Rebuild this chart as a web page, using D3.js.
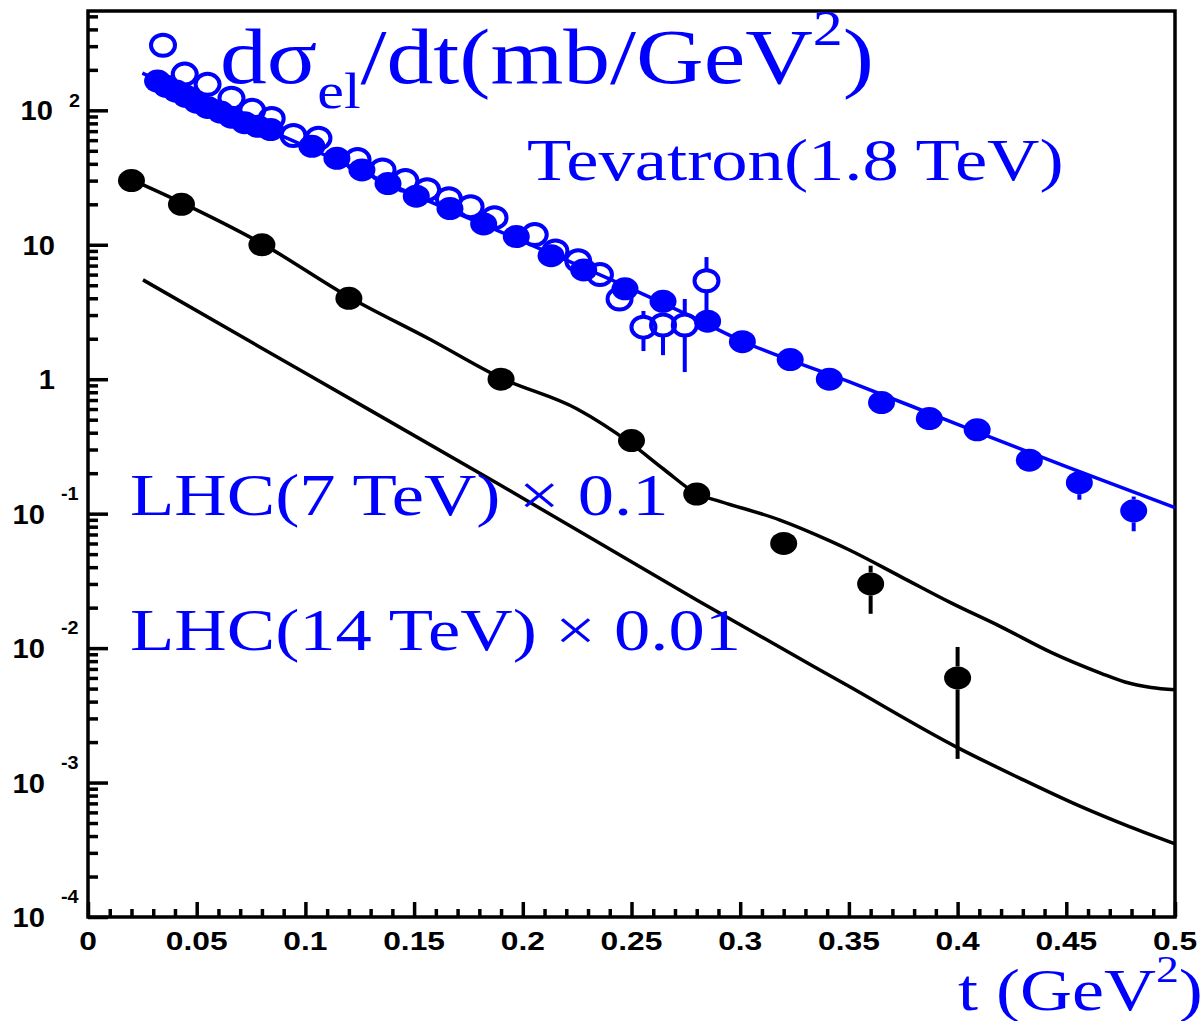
<!DOCTYPE html>
<html>
<head>
<meta charset="utf-8">
<script src="https://cdn.jsdelivr.net/npm/d3@7"></script>
<style>
  body { margin: 0; background: #fff; }
  svg { display: block; }
</style>
</head>
<body>
<div id="chart"></div>
<script>
// Tevatron 1.8 TeV, filled points
const tevT = [0.032, 0.036, 0.0405, 0.045, 0.050, 0.055, 0.061, 0.066, 0.072, 0.078, 0.084,
              0.103, 0.1145, 0.126, 0.138, 0.151, 0.1665, 0.182, 0.197, 0.213, 0.228, 0.247,
              0.2645, 0.285, 0.301, 0.323, 0.341, 0.365, 0.387, 0.409, 0.433, 0.456, 0.481];
const tevV = [165, 151, 139, 127, 115, 105, 97, 89, 81, 76, 72,
              54, 44, 36, 28.5, 23, 18.6, 14.3, 11.5, 8.3, 6.5, 4.7,
              3.8, 2.7, 1.9, 1.4, 1.0, 0.67, 0.51, 0.42, 0.25, 0.17, 0.105];
const tevLo = [null, null, null, null, null, null, null, null, null, null, null,
               null, null, null, null, null, null, null, null, null, null, null,
               null, null, null, null, null, null, null, null, 0.206, 0.127, 0.074];
const tevHi = [null, null, null, null, null, null, null, null, null, null, null,
               null, null, null, null, null, null, null, null, null, null, null,
               null, null, null, null, null, null, null, null, 0.30, 0.206, 0.134];

// open points
const openT = [0.0345, 0.0445, 0.055, 0.066, 0.0755, 0.0845, 0.0945, 0.106, 0.124, 0.1355,
               0.146, 0.156, 0.166, 0.176, 0.187, 0.2055, 0.215, 0.2255, 0.2355, 0.2445,
               0.2555, 0.2645, 0.2745, 0.2845];
const openV = [305, 186, 156, 123, 100, 87, 65, 62, 43, 36,
               30, 25.7, 22, 19.2, 15.9, 11.9, 9.0, 7.6, 6.0, 3.95,
               2.44, 2.53, 2.53, 5.4];
const openLo = [null, null, null, null, null, null, null, null, null, null,
                null, null, null, null, null, null, null, null, null, 3.3,
                1.62, 1.51, 1.13, 2.8];
const openHi = [null, null, null, null, null, null, null, null, null, null,
                null, null, null, null, null, null, null, null, null, 4.7,
                3.22, 3.06, 3.95, 8.1];

// fit curve through Tevatron
const tevCurveT = [0.025, 0.05, 0.1, 0.15, 0.2, 0.25, 0.28, 0.3, 0.35, 0.4, 0.45, 0.5];
const tevCurveV = [189, 123, 54, 23.5, 10.6, 4.7, 2.8, 1.95, 0.96, 0.462, 0.224, 0.111];

// LHC 7 TeV x 0.1
const lhc7T = [0.02, 0.043, 0.08, 0.12, 0.19, 0.25, 0.28, 0.32, 0.36, 0.40];
const lhc7V = [30, 20, 10, 4, 1.0, 0.35, 0.14, 0.06, 0.03, 0.006];
const lhc7Lo = [null, null, null, null, null, null, null, null, 0.018, 0.0015];
const lhc7Hi = [null, null, null, null, null, null, null, null, 0.041, 0.0102];
const lhc7CurveT = [0.02, 0.043, 0.08, 0.12, 0.157, 0.19, 0.225, 0.25, 0.265, 0.28, 0.291,
                    0.318, 0.341, 0.35, 0.374, 0.397, 0.42, 0.443, 0.466, 0.477, 0.489, 0.5];
const lhc7CurveV = [30.5, 20.6, 10.2, 4.09, 1.99, 1.02, 0.6, 0.33, 0.213, 0.141, 0.123,
                    0.090, 0.063, 0.0539, 0.0339, 0.0217, 0.0144, 0.0093, 0.0065, 0.0056, 0.0051, 0.0049];

// LHC 14 TeV x 0.01
const lhc14CurveT = [0.0253, 0.0975, 0.19, 0.28, 0.35, 0.40, 0.429, 0.456, 0.479, 0.5];
const lhc14CurveV = [5.48, 1.17, 0.162, 0.0228, 0.0052, 0.00182, 0.00107, 0.00067, 0.00047, 0.00035];

// ticks
const xMajor = [0, 0.05, 0.1, 0.15, 0.2, 0.25, 0.3, 0.35, 0.4, 0.45, 0.5];
const xLabels = ["0", "0.05", "0.1", "0.15", "0.2", "0.25", "0.3", "0.35", "0.4", "0.45", "0.5"];
const yMajor = [1e-4, 1e-3, 1e-2, 1e-1, 1, 10, 100];
const yBase = ["10", "10", "10", "10", "1", "10", "10"];
const yExp = ["-4", "-3", "-2", "-1", "", "", "2"];

const W = 1202, H = 1021;
const blue = "#0000ff";
const sx = 1.2;   // the original is stretched sideways

const x = d3.scaleLinear().domain([0, 0.5]).range([88, 1175]);
const y = d3.scaleLog().domain([1e-4, 548]).range([917, 11]);

const svg = d3.select("#chart").append("svg")
    .attr("width", W).attr("height", H);

// ticks with d3 axes
const xMinor = d3.range(0, 0.5001, 0.01).filter(d => Math.abs(d * 20 - Math.round(d * 20)) > 1e-6);
const yMinor = [];
for (let e = -4; e <= 2; e++) {
    for (let m = 2; m <= 9; m++) {
        const v = m * Math.pow(10, e);
        if (v < 548) yMinor.push(v);
    }
}

function styleAxis(g) {
    g.select(".domain").remove();
    g.selectAll("line").attr("stroke", "#000").attr("stroke-width", 3.5);
    g.selectAll("text").remove();
}

svg.append("g").attr("transform", "translate(0,917)")
    .call(d3.axisBottom(x).tickValues(xMajor).tickSize(-15)).call(styleAxis);
svg.append("g").attr("transform", "translate(0,917)")
    .call(d3.axisBottom(x).tickValues(xMinor).tickSize(-8)).call(styleAxis);
svg.append("g").attr("transform", "translate(88,0)")
    .call(d3.axisLeft(y).tickValues(yMajor).tickSize(-20)).call(styleAxis);
svg.append("g").attr("transform", "translate(88,0)")
    .call(d3.axisLeft(y).tickValues(yMinor).tickSize(-10)).call(styleAxis);

// frame
svg.append("rect")
    .attr("x", 88).attr("y", 11).attr("width", 1175 - 88).attr("height", 917 - 11)
    .attr("fill", "none").attr("stroke", "#000").attr("stroke-width", 3.5);

// tick labels
const tickFont = "'Liberation Sans', Arial, sans-serif";
svg.append("g").selectAll("text").data(xMajor).join("text")
    .attr("transform", (d) => "translate(" + x(d) + ",950) scale(1.27,1)")
    .attr("text-anchor", "middle")
    .attr("font-family", tickFont).attr("font-weight", "bold").attr("font-size", 25)
    .text((d, i) => xLabels[i]);

const yl = svg.append("g");
yMajor.forEach(function(v, i) {
    const ty = y(v);
    const right = yExp[i] === "" ? 55 : (yExp[i][0] === "-" ? 45 : 53);
    yl.append("text")
        .attr("transform", "translate(" + right + "," + (ty + 10) + ") scale(1.04,1)")
        .attr("text-anchor", "end")
        .attr("font-family", tickFont).attr("font-weight", "bold").attr("font-size", 28)
        .text(yBase[i]);
    if (yExp[i] !== "") {
        const neg = yExp[i][0] === "-";
        yl.append("text")
            .attr("transform", "translate(" + (neg ? 61 : 69) + "," + (ty + (neg ? -14 : -3)) + ") scale(1.1,1)")
            .attr("font-family", tickFont).attr("font-weight", "bold").attr("font-size", 18)
            .text(yExp[i]);
    }
});

// curves
const line = d3.line()
    .x(d => x(d[0])).y(d => y(d[1]))
    .curve(d3.curveMonotoneX);

const plot = svg.append("g");

plot.append("path")
    .attr("d", line(d3.zip(lhc14CurveT, lhc14CurveV)))
    .attr("fill", "none").attr("stroke", "#000").attr("stroke-width", 3.5);
plot.append("path")
    .attr("d", line(d3.zip(lhc7CurveT, lhc7CurveV)))
    .attr("fill", "none").attr("stroke", "#000").attr("stroke-width", 3.5);
plot.append("path")
    .attr("d", line(d3.zip(tevCurveT, tevCurveV)))
    .attr("fill", "none").attr("stroke", blue).attr("stroke-width", 3.5);

const rx = 13.5, ry = 11.5;

// error bars, drawn outside the marker like ROOT does
function errorBars(ts, vs, lo, hi, color) {
    const g = plot.append("g").attr("stroke", color).attr("stroke-width", 4);
    ts.forEach(function(t, i) {
        if (lo[i] == null) return;
        const cx = x(t), cy = y(vs[i]);
        if (y(hi[i]) < cy - ry) {
            g.append("line").attr("x1", cx).attr("x2", cx).attr("y1", y(hi[i])).attr("y2", cy - ry);
        }
        if (y(lo[i]) > cy + ry) {
            g.append("line").attr("x1", cx).attr("x2", cx).attr("y1", cy + ry).attr("y2", y(lo[i]));
        }
    });
}

errorBars(openT, openV, openLo, openHi, blue);
errorBars(tevT, tevV, tevLo, tevHi, blue);
errorBars(lhc7T, lhc7V, lhc7Lo, lhc7Hi, "#000");

plot.append("g").selectAll("ellipse").data(d3.zip(openT, openV)).join("ellipse")
    .attr("cx", d => x(d[0])).attr("cy", d => y(d[1]))
    .attr("rx", 12).attr("ry", 10.5)
    .attr("fill", "none").attr("stroke", blue).attr("stroke-width", 4);

plot.append("g").selectAll("ellipse").data(d3.zip(tevT, tevV)).join("ellipse")
    .attr("cx", d => x(d[0])).attr("cy", d => y(d[1]))
    .attr("rx", rx).attr("ry", ry)
    .attr("fill", blue);

plot.append("g").selectAll("ellipse").data(d3.zip(lhc7T, lhc7V)).join("ellipse")
    .attr("cx", d => x(d[0])).attr("cy", d => y(d[1]))
    .attr("rx", rx).attr("ry", ry)
    .attr("fill", "#000");

// blue labels
const serif = "'Liberation Serif', 'Times New Roman', serif";

const title = svg.append("text")
    .attr("transform", "translate(220,83) scale(1.2,1)")
    .attr("font-family", serif).attr("font-size", 78).attr("fill", blue);
title.append("tspan").text("d\u03c3");
title.append("tspan").attr("font-size", 50).attr("dy", 25).text("el");
title.append("tspan").attr("dy", -25).text("/dt(mb/GeV");
title.append("tspan").attr("font-size", 50).attr("dy", -38).text("2");
title.append("tspan").attr("dy", 38).text(")");

svg.append("text")
    .attr("transform", "translate(527,180) scale(1.21,1)")
    .attr("font-family", serif).attr("font-size", 60).attr("fill", blue)
    .text("Tevatron(1.8 TeV)");

svg.append("text")
    .attr("transform", "translate(130,515) scale(1.21,1)")
    .attr("font-family", serif).attr("font-size", 60).attr("fill", blue)
    .text("LHC(7 TeV) \u00d7 0.1");

svg.append("text")
    .attr("transform", "translate(130,650) scale(1.21,1)")
    .attr("font-family", serif).attr("font-size", 60).attr("fill", blue)
    .text("LHC(14 TeV) \u00d7 0.01");

const xt = svg.append("text")
    .attr("transform", "translate(958,1010) scale(" + sx + ",1)")
    .attr("font-family", serif).attr("font-size", 60).attr("fill", blue);
xt.append("tspan").text("t (GeV");
xt.append("tspan").attr("font-size", 38).attr("dy", -28).text("2");
xt.append("tspan").attr("dy", 28).text(")");
</script>
</body>
</html>
